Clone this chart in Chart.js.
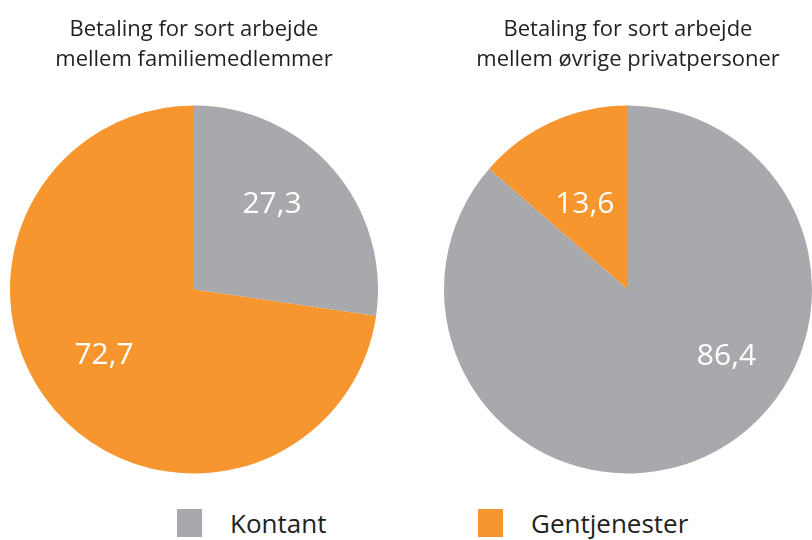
<!DOCTYPE html>
<html>
<head>
<meta charset="utf-8">
<script src="https://cdn.jsdelivr.net/npm/chart.js@4"></script>
<style>
  html, body { margin: 0; padding: 0; background: #fff; }
  body { width: 812px; height: 540px; position: relative; overflow: hidden; font-family: "Open Sans", sans-serif; }
  .c { position: absolute; top: 0; }
  #legend { position: absolute; left: 0; top: 505px; width: 812px; height: 35px; }
  .item { position: absolute; top: 0; display: flex; align-items: center; font-size: 26px; color: #231f20; }
  .sw { width: 25px; height: 28px; margin-right: 28px; }
</style>
</head>
<body>
<div class="c" style="left:10px;width:368px;height:474px;"><canvas id="c1"></canvas></div>
<div class="c" style="left:444px;width:368px;height:474px;"><canvas id="c2"></canvas></div>
<div id="legend"></div>
<script>
const categories = ["Kontant", "Gentjenester"];
const familyValues = [27.3, 72.7];
const privateValues = [86.4, 13.6];
const valueLabels1 = ["27,3", "72,7"];
const valueLabels2 = ["86,4", "13,6"];
const title1 = ["Betaling for sort arbejde", "mellem familiemedlemmer"];
const title2 = ["Betaling for sort arbejde", "mellem øvrige privatpersoner"];
const colors = ["#a7a9ac", "#f7962f"];

const labelPlugin = {
  id: 'valueLabels',
  afterDatasetsDraw(chart, args, opts) {
    const ctx = chart.ctx;
    const meta = chart.getDatasetMeta(0);
    ctx.save();
    ctx.fillStyle = '#ffffff';
    ctx.font = '30px "Open Sans", sans-serif';
    ctx.textAlign = 'center';
    ctx.textBaseline = 'middle';
    meta.data.forEach((arc, i) => {
      const r = arc.outerRadius;
      const off = opts.offsets[i];
      ctx.fillText(opts.texts[i], arc.x + off[0] * r, arc.y + off[1] * r);
    });
    ctx.restore();
  }
};

function makePie(id, values, texts, title, offsets) {
  return new Chart(document.getElementById(id), {
    type: 'pie',
    data: {
      labels: categories,
      datasets: [{ data: values, backgroundColor: colors, borderWidth: 0 }]
    },
    options: {
      responsive: true,
      maintainAspectRatio: false,
      animation: false,
      layout: { padding: { left: 0, right: 0, top: 0, bottom: 0 } },
      plugins: {
        legend: { display: false },
        tooltip: { enabled: false },
        title: {
          display: true,
          text: title,
          color: '#231f20',
          font: { family: '"Open Sans", sans-serif', size: 22, weight: 'normal', lineHeight: 1.364 },
          padding: { top: 15, bottom: 30 }
        },
        valueLabels: { texts: texts, offsets: offsets }
      }
    },
    plugins: [labelPlugin]
  });
}

makePie('c1', familyValues, valueLabels1, title1, [[0.424, -0.462], [-0.489, 0.359]]);
makePie('c2', privateValues, valueLabels2, title2, [[0.535, 0.366], [-0.235, -0.464]]);

const legend = document.getElementById('legend');
const legendX = [177, 478];
categories.forEach((cat, i) => {
  const d = document.createElement('div');
  d.className = 'item';
  d.style.left = legendX[i] + 'px';
  d.innerHTML = '<div class="sw" style="background:' + colors[i] + '"></div><span>' + cat + '</span>';
  legend.appendChild(d);
});
</script>
</body>
</html>
